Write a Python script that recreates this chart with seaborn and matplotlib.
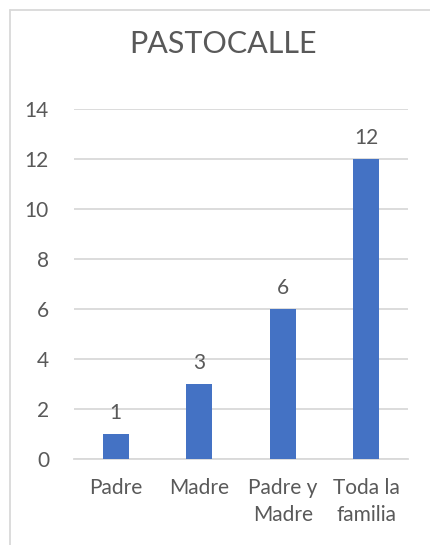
"""
Bar chart PASTOCALLE: counts per family group.
Saves out.png
"""
import pandas as pd
import matplotlib
matplotlib.use('Agg')
import matplotlib.pyplot as plt
from matplotlib.lines import Line2D
import seaborn as sns

categories = ['Padre', 'Madre', 'Padre y\nMadre', 'Toda la\nfamilia']
values = [1, 3, 6, 12]
y_ticks = [0, 2, 4, 6, 8, 10, 12, 14]

TEXT = '#595959'
GRID = '#D9D9D9'
BAR = '#4472C4'


def main():
    sns.set_style('white')
    plt.rcParams['font.family'] = ['Lato', 'DejaVu Sans']

    df = pd.DataFrame({'grupo': categories, 'n': values})

    fig = plt.figure(figsize=(4.3, 5.45), dpi=100)
    ax = fig.add_axes([74 / 430, 1 - 459 / 545, 334 / 430, 350 / 545])

    sns.barplot(data=df, x='grupo', y='n', color=BAR, width=0.31,
                saturation=1, linewidth=0, ax=ax, zorder=3)

    for i, v in enumerate(values):
        ax.annotate(str(v), (i, v), xytext=(0, 8), textcoords='offset points',
                    ha='center', va='bottom', fontsize=15, color=TEXT)

    ax.set_ylim(0, 14)
    ax.set_xlim(-0.5, len(categories) - 0.5)
    ax.set_yticks(y_ticks)
    ax.yaxis.grid(True, color=GRID, linewidth=1.3, zorder=0)
    ax.set_axisbelow(True)
    for side in ['top', 'right', 'left']:
        ax.spines[side].set_visible(False)
    ax.spines['bottom'].set_color(GRID)
    ax.spines['bottom'].set_linewidth(1.3)
    ax.tick_params(axis='both', length=0, colors=TEXT, labelsize=15)
    ax.tick_params(axis='y', pad=18)
    ax.tick_params(axis='x', pad=14)
    for lbl in ax.get_xticklabels():
        lbl.set_linespacing(1.4)
    ax.set_xlabel('')
    ax.set_ylabel('')

    fig.text(223 / 430, 1 - 44 / 545, 'PASTOCALLE', ha='center', va='center',
             fontsize=22, color=TEXT)

    # chart frame (only top and left edges visible in the crop)
    fig.add_artist(Line2D([10 / 430, 1], [1 - 10 / 545, 1 - 10 / 545],
                          color=GRID, linewidth=1.3, transform=fig.transFigure))
    fig.add_artist(Line2D([10 / 430, 10 / 430], [0, 1 - 10 / 545],
                          color=GRID, linewidth=1.3, transform=fig.transFigure))

    fig.savefig('out.png', dpi=100)
    plt.close(fig)


if __name__ == '__main__':
    main()
